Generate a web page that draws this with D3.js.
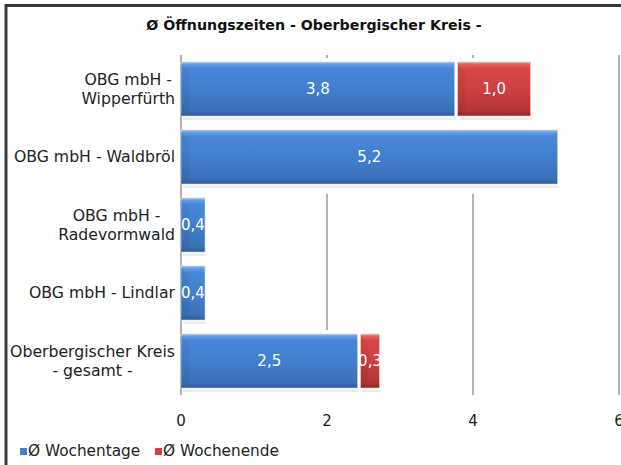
<!DOCTYPE html>
<html>
<head>
<meta charset="utf-8">
<script src="https://cdn.jsdelivr.net/npm/d3@7"></script>
<style>
  body{margin:0;background:#fff;}
  text{font-family:"DejaVu Sans",Verdana,sans-serif;}
</style>
</head>
<body>
<div class="one"></div>
<script>
// categories and values
const categories=[
  ["OBG mbH -","Wipperfürth"],
  ["OBG mbH - Waldbröl"],
  ["OBG mbH -","Radevormwald"],
  ["OBG mbH - Lindlar"],
  ["Oberbergischer Kreis","- gesamt -"]
]
const wochentage=[3.79,5.2,0.37,0.37,2.46]
const wochenende=[1.04,0,0,0,0.3]
const ticks=[0,2,4,6]
const seriesNames=["Ø Wochentage","Ø Wochenende"]
const title="Ø Öffnungszeiten - Oberbergischer Kreis -"

let W=621,H=465
let svg=d3.select('.one').append('svg').attr('width',W).attr('height',H)

let defs=svg.append('defs')
function grad(id,stops){
  let g=defs.append('linearGradient').attr('id',id).attr('x1',0).attr('y1',0).attr('x2',0).attr('y2',1)
  stops.forEach(s=>g.append('stop').attr('offset',s[0]).attr('stop-color',s[1]))
}
grad('blue',[[0,'#8cc0f6'],[0.05,'#5d9ce8'],[0.12,'#4787d8'],[0.5,'#4180cf'],[0.9,'#3a70b6'],[0.96,'#33629f'],[1,'#2d588f']])
grad('red',[[0,'#f89494'],[0.05,'#e75a5a'],[0.12,'#da4646'],[0.5,'#cf4040'],[0.9,'#b23535'],[0.96,'#9a2c2c'],[1,'#882626']])
let colors=['url(#blue)','url(#red)']
let legendColors=['#4180cf','#cf4040']

// outer frame
svg.append('rect').attr('x',6).attr('y',5.5).attr('width',W+10).attr('height',H+10)
  .attr('fill','none').attr('stroke','#3a3a3a').attr('stroke-width',3)

svg.append('text').attr('x',314).attr('y',30).attr('text-anchor','middle')
  .attr('font-size',14.2).attr('font-weight','bold').attr('fill','#111').text(title)

let x=d3.scaleLinear().domain([0,6]).range([181,619])
let y=d3.scaleBand().domain(d3.range(categories.length)).range([55,395]).paddingInner(0.206).paddingOuter(0.103)

let plot=svg.append('g')

// gridlines (vertical)
plot.selectAll('line.grid').data(ticks.slice(1)).join('line').attr('class','grid')
  .attr('x1',d=>x(d)).attr('x2',d=>x(d)).attr('y1',55).attr('y2',395)
  .attr('stroke','#999').attr('stroke-width',1.5)
// value axis line
plot.append('line').attr('x1',x(0)).attr('x2',x(0)).attr('y1',55).attr('y2',395)
  .attr('stroke','#999').attr('stroke-width',1.5)

let rows=categories.map((c,i)=>({i:i,lab:c,wk:wochentage[i],we:wochenende[i]}))

// floor depth hides gridlines around the bars
plot.selectAll('rect.floor').data(rows).join('rect').attr('class','floor')
  .attr('x',x(0)+1).attr('y',d=>y(d.i)-4)
  .attr('width',d=>x(d.wk+d.we)-x(0)+4).attr('height',y.bandwidth()+14)
  .attr('fill','#fff')

let segs=[]
rows.forEach(r=>{
  segs.push({i:r.i,s:0,x0:0,x1:r.wk,v:r.wk})
  if(r.we>0)segs.push({i:r.i,s:1,x0:r.wk,x1:r.wk+r.we,v:r.we})
})

// soft shadows
plot.selectAll('rect.shadow').data(segs).join('rect').attr('class','shadow')
  .attr('x',d=>x(d.x0)+2).attr('y',d=>y(d.i)+y.bandwidth()+1.5)
  .attr('width',d=>Math.max(x(d.x1)-x(d.x0)-4,1)).attr('height',2.5)
  .attr('fill','#ececec')

let bars=plot.selectAll('g.bar').data(segs).join('g').attr('class','bar')
bars.append('rect')
  .attr('x',d=>x(d.x0)).attr('y',d=>y(d.i))
  .attr('width',d=>x(d.x1)-x(d.x0)-3).attr('height',y.bandwidth())
  .attr('fill',d=>colors[d.s])
  .attr('stroke',d=>d.s? '#ecd2d2':'#cfdaea').attr('stroke-width',0.6)
// bevel on the left top corner
bars.append('path')
  .attr('d',d=>{
    let x0=x(d.x0),y0=y(d.i)
    return 'M'+x0+','+(y0+2)+'L'+(x0+8)+','+(y0+9)+'L'+(x0+8)+','+(y0+y.bandwidth()-6)+'L'+x0+','+(y0+y.bandwidth())+'Z'
  })
  .attr('fill','#000').attr('opacity',0.05)

let fmt=d=>d3.format('.1f')(d).replace('.',',')
plot.selectAll('text.val').data(segs).join('text').attr('class','val')
  .attr('x',d=>(x(d.x0)+x(d.x1)-3)/2).attr('y',d=>y(d.i)+y.bandwidth()/2+5)
  .attr('text-anchor','middle').attr('font-size',15).attr('fill','#fff')
  .text(d=>fmt(d.v))

// category labels, lines centred on each other, block right aligned
let labs=svg.selectAll('g.cat').data(rows).join('g').attr('class','cat')
labs.each(function(d){
  let g=d3.select(this)
  let n=d.lab.length
  let t=g.selectAll('text').data(d.lab).join('text')
    .attr('font-size',15.7).attr('fill','#222').attr('text-anchor','middle')
    .attr('y',(l,k)=>y(d.i)+y.bandwidth()/2+5+(k-(n-1)/2)*19)
    .text(l=>l)
  let wmax=d3.max(t.nodes(),nd=>nd.getComputedTextLength())
  t.attr('x',175-wmax/2)
})

// tick labels
svg.selectAll('text.tick').data(ticks).join('text').attr('class','tick')
  .attr('x',d=>x(d)).attr('y',426).attr('text-anchor','middle')
  .attr('font-size',15).attr('fill','#222').text(d=>d)

// legend
let lx=[20,155]
let leg=svg.selectAll('g.leg').data(seriesNames).join('g').attr('class','leg')
  .attr('transform',(d,i)=>'translate('+lx[i]+',0)')
leg.append('rect').attr('x',0).attr('y',448).attr('width',7).attr('height',7)
  .attr('fill',(d,i)=>legendColors[i])
leg.append('text').attr('x',8).attr('y',456).attr('font-size',15.3).attr('fill','#222').text(d=>d)
</script>
</body>
</html>
